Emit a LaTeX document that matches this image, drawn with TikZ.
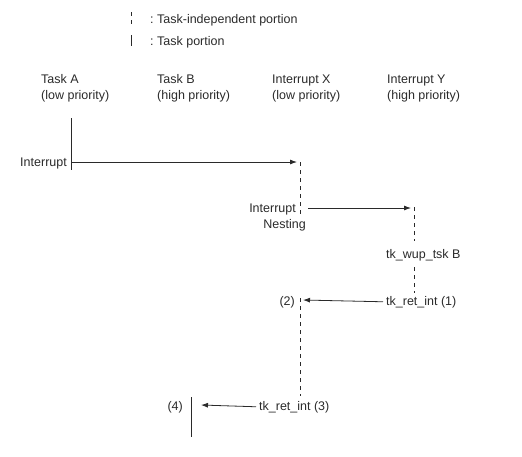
\documentclass[tikz,border=0pt]{standalone}
\usepackage{fontspec}
\setmainfont{Liberation Sans}
\usetikzlibrary{arrows.meta}
\definecolor{ink}{HTML}{2A2A2A}
\begin{document}
\begin{tikzpicture}[x=1pt,y=-1pt,
  lbl/.style={inner sep=0pt,text=ink,font=\fontsize{12.5}{16}\selectfont},
  taskline/.style={draw=ink,line width=1pt},
  intline/.style={draw=ink,line width=1pt,dash pattern=on 4pt off 4pt},
  arr/.style={draw=ink,line width=0.8pt,-{Latex[length=7pt,width=5pt]}}]
\useasboundingbox (0,0) rectangle (522,456);
% legend
\coordinate (l1a) at (131,12); \coordinate (l1b) at (131,25);
\draw[intline] (l1a) -- (l1b);
\node[lbl,anchor=base west] (leg1) at (150,23) {:\;Task-independent portion};
\coordinate (l2a) at (131,35); \coordinate (l2b) at (131,46);
\draw[taskline] (l2a) -- (l2b);
\node[lbl,anchor=base west] (leg2) at (150,45) {:\;Task portion};
% headers
\node[lbl,anchor=base west,align=left] (hA) at (41,99) {Task A\\(low priority)};
\node[lbl,anchor=base west,align=left] (hB) at (157,99) {Task B\\(high priority)};
\node[lbl,anchor=base west,align=left] (hX) at (272,99) {Interrupt X\\(low priority)};
\node[lbl,anchor=base west,align=left] (hY) at (387,99) {Interrupt Y\\(high priority)};
% task A
\coordinate (aTop) at (71,118); \coordinate (aBot) at (71,170);
\draw[taskline] (aTop) -- (aBot);
\coordinate (aInt) at (71,162);
\node[lbl,anchor=base east] (intlbl) at (67,166) {Interrupt};
\coordinate (xIn) at (297,162);
\draw[arr] (aInt) -- (xIn);
% interrupt X
\coordinate (xTop) at (300,162); \coordinate (xMid1) at (300,215);
\draw[intline] (xTop) -- (xMid1);
\coordinate (xMid2) at (300,298); \coordinate (xBot) at (300,396);
\draw[intline] (xMid2) -- (xBot);
\node[lbl,anchor=base east] (nest1) at (296,212) {Interrupt};
\node[lbl,anchor=base east] (nest2) at (306,228) {Nesting};
\coordinate (xOut) at (308,208); \coordinate (yIn) at (411,208);
\draw[arr] (xOut) -- (yIn);
% interrupt Y
\coordinate (yTop) at (414,207); \coordinate (yMid1) at (414,241);
\draw[intline] (yTop) -- (yMid1);
\node[lbl,anchor=base west] (wup) at (386,258) {tk\_wup\_tsk B};
\coordinate (yMid2) at (414,267); \coordinate (yBot) at (414,293);
\draw[intline] (yMid2) -- (yBot);
\node[lbl,anchor=base west] (ret1) at (386,305) {tk\_ret\_int (1)};
\coordinate (xRet) at (303,300);
\draw[arr] (ret1.west) ++(-3,0) coordinate (r1s) (r1s) -- (xRet);
\node[lbl,anchor=base east] (n2) at (295,305) {(2)};
% return to task B
\node[lbl,anchor=base west] (ret3) at (259,410) {tk\_ret\_int (3)};
\node[lbl,anchor=base east] (n4) at (183,410) {(4)};
\coordinate (bTop) at (191,397); \coordinate (bBot) at (191,437);
\draw[taskline] (bTop) -- (bBot);
\coordinate (bIn) at (201,405);
\draw[arr] (ret3.west) ++(-3,0) coordinate (r3s) (r3s) -- (bIn);
\end{tikzpicture}
\end{document}
